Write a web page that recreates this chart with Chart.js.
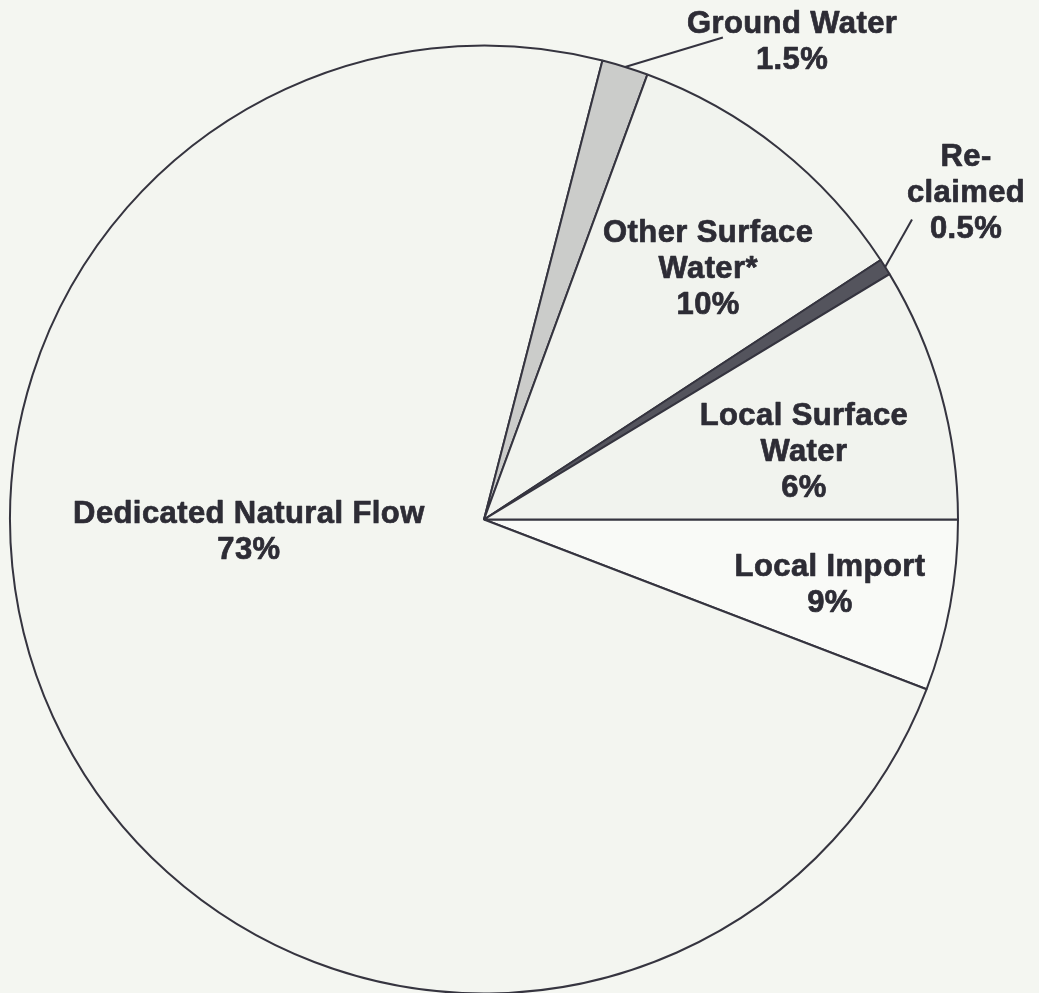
<!DOCTYPE html>
<html><head><meta charset="utf-8">
<script src="https://cdn.jsdelivr.net/npm/chart.js@4.4.1/dist/chart.umd.min.js"></script>
<style>html,body{margin:0;padding:0;background:#f4f6f1;overflow:hidden}canvas{display:block}</style>
</head><body>
<canvas id="c" width="1039" height="993"></canvas>
<script>
// Slices in drawing order, clockwise from 3 o'clock
const categories = ['Local Import', 'Dedicated Natural Flow', 'Ground Water', 'Other Surface Water*', 'Reclaimed', 'Local Surface Water'];
const sliceShares = [5.83, 73.19, 1.58, 10.18, 0.56, 8.66];
// Percentages as printed on the chart
const printedPercents = ['9%', '73%', '1.5%', '10%', '0.5%', '6%'];
const labelLines = [['Local Import'], ['Dedicated Natural Flow'], ['Ground Water'], ['Other Surface', 'Water*'], ['Re-', 'claimed'], ['Local Surface', 'Water']];

const sliceColors = ['#f9faf7', '#f3f5f0', '#cbccca', '#f1f3ee', '#54545d', '#f1f3ee'];
// label anchor (first baseline, centre) relative to pie centre, in units of radius
const labelAnchors = [[0.730, 0.120], [-0.496, 0.008], [0.650, -1.027], [0.473, -0.586], [1.017, -0.745], [0.675, -0.200]];
const leaderEnds = [null, null, [0.504, -1.017], null, [0.903, -0.633], null];

const labelPlugin = {
  id: 'pieLabels',
  afterDatasetsDraw(chart) {
    const ctx = chart.ctx;
    const meta = chart.getDatasetMeta(0);
    const a0 = meta.data[0];
    const cx = a0.x, cy = a0.y, r = a0.outerRadius;
    ctx.save();
    ctx.strokeStyle = '#34333f';
    ctx.lineWidth = 2;
    meta.data.forEach((arc, i) => {
      const e = leaderEnds[i];
      if (!e) return;
      const mid = (arc.startAngle + arc.endAngle) / 2;
      ctx.beginPath();
      ctx.moveTo(cx + Math.cos(mid) * r, cy + Math.sin(mid) * r);
      ctx.lineTo(cx + e[0] * r, cy + e[1] * r);
      ctx.stroke();
    });
    ctx.font = 'bold 31px "Liberation Sans", Arial, Helvetica, sans-serif';
    try { ctx.letterSpacing = '0.4px'; } catch (err) {}
    ctx.fillStyle = '#2d2c35';
    ctx.strokeStyle = '#2d2c35';
    ctx.lineWidth = 0.7;
    ctx.lineJoin = 'round';
    ctx.textAlign = 'center';
    ctx.textBaseline = 'alphabetic';
    labelLines.forEach((lines, i) => {
      const a = labelAnchors[i];
      const x = cx + a[0] * r;
      let y = cy + a[1] * r;
      [...lines, printedPercents[i]].forEach(t => { ctx.fillText(t, x, y); ctx.strokeText(t, x, y); y += 36; });
    });
    ctx.restore();
  }
};

new Chart(document.getElementById('c'), {
  type: 'pie',
  data: {
    labels: categories,
    datasets: [{
      data: sliceShares,
      backgroundColor: sliceColors,
      borderColor: '#35343f',
      borderWidth: 2,
      radius: 474,
      clip: false
    }]
  },
  options: {
    responsive: false,
    animation: false,
    rotation: 90,
    layout: { padding: { left: 0, right: 71, top: 46, bottom: 0 } },
    plugins: { legend: { display: false }, tooltip: { enabled: false } }
  },
  plugins: [labelPlugin]
});
</script>
</body></html>
